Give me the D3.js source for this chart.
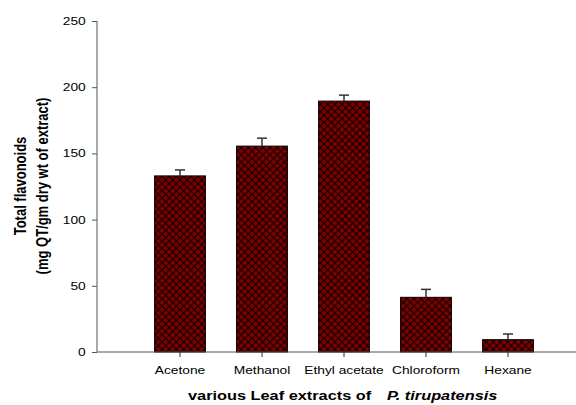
<!DOCTYPE html>
<html><head><meta charset="utf-8">
<script src="https://cdn.jsdelivr.net/npm/d3@7"></script>
<style>body{margin:0;background:#fff}</style>
</head><body>
<script>
const categories = ["Acetone","Methanol","Ethyl acetate","Chloroform","Hexane"];
const values = [133, 155.5, 189.5, 41.3, 9.3];
const errors = [4.5, 6, 4.5, 6, 4.3];
const yTicks = [0,50,100,150,200,250];

const W=576,H=405;
const FONT="Liberation Sans, Arial, sans-serif";
const svg=d3.select("body").append("svg").attr("width",W).attr("height",H);
const defs=svg.append("defs");
const P=7.2;
const pat=defs.append("pattern").attr("id","hatch").attr("patternUnits","userSpaceOnUse")
  .attr("width",P).attr("height",P).attr("x",0).attr("y",0);
pat.append("rect").attr("width",P).attr("height",P).attr("fill","#800000");
pat.append("path").attr("d",`M-1,-1L${P+1},${P+1}M${P+1},-1L-1,${P+1}`)
  .attr("stroke","#000").attr("stroke-width",1);

const x=d3.scaleBand().domain(categories).range([139,549]).paddingInner(0.38).paddingOuter(0.19);
const y=d3.scaleLinear().domain([0,250]).range([352,21]);

// bars
svg.selectAll("rect.bar").data(categories).join("rect").attr("class","bar")
  .attr("x",d=>x(d)).attr("width",x.bandwidth())
  .attr("y",(d,i)=>y(values[i])).attr("height",(d,i)=>y(0)-y(values[i]))
  .attr("fill","url(#hatch)").attr("stroke","#000").attr("stroke-width",1);

// error bars
const eb=svg.append("g").attr("stroke","#333").attr("stroke-width",1.5);
categories.forEach((c,i)=>{
  const cx=x(c)+x.bandwidth()/2;
  eb.append("line").attr("x1",cx).attr("x2",cx).attr("y1",y(values[i])).attr("y2",y(values[i]+errors[i]));
  eb.append("line").attr("x1",cx-5).attr("x2",cx+5).attr("y1",y(values[i]+errors[i])).attr("y2",y(values[i]+errors[i]));
});

// y axis
const ya=svg.append("g").attr("transform","translate(97,0)")
  .call(d3.axisLeft(y).tickValues(yTicks).tickSize(5).tickPadding(4));
ya.select(".domain").attr("stroke","#555").attr("d","M0,21V352");
ya.selectAll(".tick line").attr("stroke","#555");
ya.selectAll("text").attr("font-family",FONT).attr("font-size",11).attr("fill","#000")
  .attr("transform","scale(1.25,1)");

// x axis
const xa=svg.append("g").attr("transform","translate(0,352)")
  .call(d3.axisBottom(x).tickSize(5).tickPadding(9));
xa.select(".domain").attr("stroke","#555").attr("d","M97,0H576");
xa.selectAll(".tick line").attr("stroke","#333");
xa.selectAll("text").attr("font-family",FONT).attr("font-size",11).attr("fill","#000")
  .attr("transform","scale(1.25,1)");

// y title
const yt=svg.append("text").attr("transform","translate(26,186) rotate(-90) scale(1,1.2)")
  .attr("text-anchor","middle").attr("font-family",FONT)
  .attr("font-weight","bold").attr("font-size",13);
yt.append("tspan").attr("x",0).attr("dy",0).text("Total flavonoids");
yt.append("tspan").attr("x",0).attr("dy",18).text("(mg QT/gm dry wt of extract)");

// x title
const xt=svg.append("text").attr("transform","translate(188,400) scale(1.21,1)")
  .attr("font-family",FONT).attr("font-weight","bold").attr("font-size",13.5);
xt.append("tspan").attr("x",0).text("various Leaf extracts of");
xt.append("tspan").attr("x",(387-188)/1.21).attr("font-style","italic").text("P. tirupatensis");
</script>
</body></html>
